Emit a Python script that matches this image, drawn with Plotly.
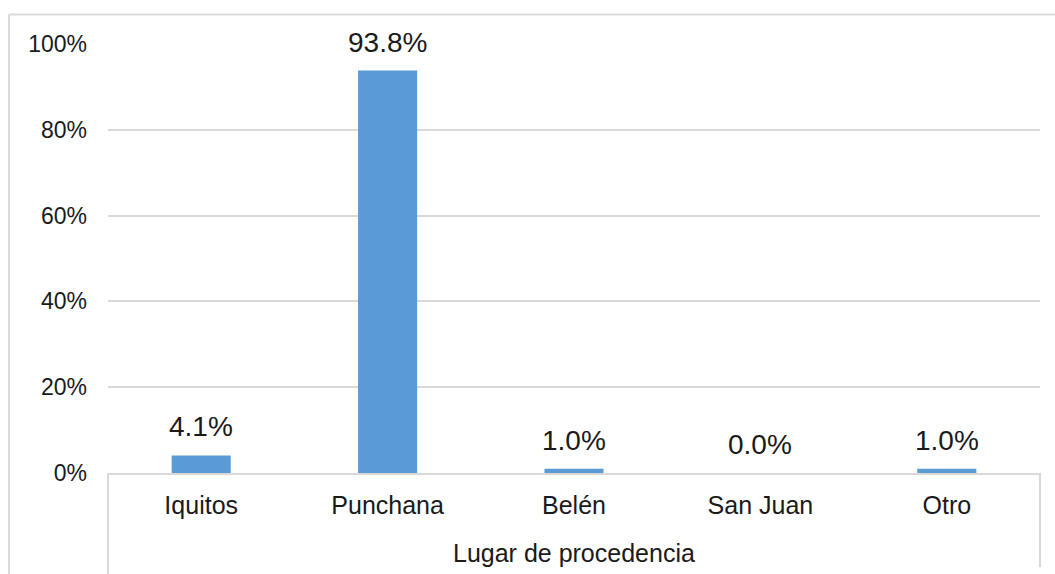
import plotly.graph_objects as go

# Lugar de procedencia: share of respondents per place
categories = ["Iquitos", "Punchana", "Belén", "San Juan", "Otro"]
shares = [0.041, 0.938, 0.010, 0.000, 0.010]
y_ticks = [0, 0.2, 0.4, 0.6, 0.8, 1.0]
y_tick_labels = ["0%", "20%", "40%", "60%", "80%", "100%"]
axis_title = "Lugar de procedencia"

W, H = 1055, 574
L, R, T, B = 108, 15, 43.5, 101
plot_w = W - L - R
plot_h = H - T - B

GRID = "#d9d9d9"
TEXT = "#1a1a1a"
BAR = "#5b9bd5"
FONT = "Liberation Sans, Arial, sans-serif"


def px_x(p):
    return (p - L) / plot_w


def px_y(p):
    return (H - B - p) / plot_h


fig = go.Figure(
    go.Bar(
        x=categories,
        y=shares,
        marker=dict(color=BAR, line=dict(width=0)),
        hoverinfo="skip",
    )
)

# value labels above each bar
for cat, val in zip(categories, shares):
    fig.add_annotation(
        x=cat, y=val, xref="x", yref="y",
        text=f"{val * 100:.1f}%",
        showarrow=False, yanchor="bottom", yshift=11,
        font=dict(family=FONT, size=28, color=TEXT),
    )

# axis title under the category labels
fig.add_annotation(
    x=0.5, y=px_y(553), xref="paper", yref="paper",
    text=axis_title, showarrow=False, yanchor="middle",
    font=dict(family=FONT, size=25, color=TEXT),
)

shapes = []
# outer chart frame (top and left edges)
shapes.append(dict(type="line", xref="paper", yref="paper",
                   x0=px_x(9), x1=px_x(W + 5), y0=px_y(14), y1=px_y(14),
                   line=dict(color=GRID, width=2)))
shapes.append(dict(type="line", xref="paper", yref="paper",
                   x0=px_x(9), x1=px_x(9), y0=px_y(14), y1=px_y(H + 5),
                   line=dict(color=GRID, width=2)))
# category axis box sides
shapes.append(dict(type="line", xref="paper", yref="paper",
                   x0=0, x1=0, y0=0, y1=px_y(H + 5),
                   line=dict(color=GRID, width=2)))
shapes.append(dict(type="line", xref="paper", yref="paper",
                   x0=1, x1=1, y0=0, y1=px_y(567),
                   line=dict(color=GRID, width=2)))

fig.update_layout(
    width=W, height=H,
    margin=dict(l=L, r=R, t=T, b=B, pad=0),
    paper_bgcolor="white", plot_bgcolor="white",
    showlegend=False,
    bargap=0.683,
    shapes=shapes,
    font=dict(family=FONT, color=TEXT),
    xaxis=dict(
        showgrid=False, showline=True, linecolor=GRID, linewidth=2,
        ticks="", tickfont=dict(family=FONT, size=25, color=TEXT),
        ticklabelstandoff=9, fixedrange=True,
    ),
    yaxis=dict(
        range=[0, 1], tickvals=y_ticks, ticktext=y_tick_labels,
        showgrid=True, gridcolor=GRID, gridwidth=2,
        zeroline=False, showline=False, ticks="",
        tickfont=dict(family=FONT, size=23, color=TEXT),
        ticklabelstandoff=20, fixedrange=True,
    ),
)

fig.write_html("out.html", config={"displayModeBar": False})
